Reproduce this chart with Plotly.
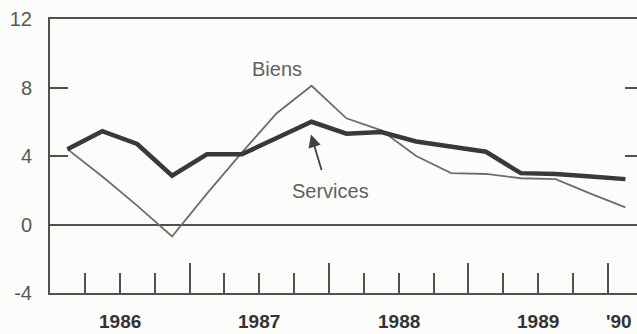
import plotly.graph_objects as go

# Quarterly growth rates, 1986 Q1 to 1990 Q1
years = [1986] * 4 + [1987] * 4 + [1988] * 4 + [1989] * 4 + [1990]
quarters = [1, 2, 3, 4] * 4 + [1]
biens = [4.4, 2.8, 1.1, -0.7, 1.8, 4.2, 6.5, 8.1, 6.2, 5.5, 4.0, 3.0,
         2.95, 2.7, 2.65, 1.8, 1.0]
services = [4.4, 5.45, 4.7, 2.85, 4.1, 4.1, 5.05, 6.0, 5.3, 5.4, 4.85, 4.55,
            4.25, 3.0, 2.95, 2.8, 2.65]

year_labels = ["1986", "1987", "1988", "1989", "'90"]
year_label_pos = [1986.5, 1987.5, 1988.5, 1989.5, 1990.08]
y_ticks = [-4, 0, 4, 8, 12]
y_tick_text = ["-4", "0", "4", "8", "12"]

# each quarter plotted at its mid-point
x = [y + (q - 0.5) / 4 for y, q in zip(years, quarters)]

AXIS = "#4b5449"
FONT = "Liberation Sans, Arial, sans-serif"
BG = "#fcfcfa"

fig = go.Figure()
fig.add_trace(go.Scatter(x=x, y=biens, mode="lines", name="Biens",
                         line=dict(color="#6a7067", width=1.8)))
fig.add_trace(go.Scatter(x=x, y=services, mode="lines", name="Services",
                         line=dict(color="#363c35", width=4.5)))
# carrier for the right-hand tick marks
fig.add_trace(go.Scatter(x=x, y=services, mode="lines", yaxis="y2",
                         line=dict(width=0), hoverinfo="skip", showlegend=False))

annotations = [
    dict(x=xv, y=-0.148, xref="x", yref="paper", text=t, showarrow=False,
         font=dict(family=FONT, size=19, color="#333333", weight="bold"),
         xanchor="center", yanchor="bottom")
    for xv, t in zip(year_label_pos, year_labels)
]
annotations += [
    dict(x=1987.627, y=9.1, text="Biens", showarrow=False,
         font=dict(family=FONT, size=20, color="#5e625c")),
    dict(x=1988.014, y=1.96, text="Services", showarrow=False,
         font=dict(family=FONT, size=20, color="#5e625c")),
    dict(x=1987.871, y=5.25, text="", showarrow=True, ax=11, ay=37,
         arrowhead=2, arrowsize=1.4, arrowwidth=1.8, arrowcolor="#3d433c"),
]

fig.update_layout(
    width=637, height=334,
    margin=dict(l=50, r=0, t=19, b=41),
    paper_bgcolor=BG, plot_bgcolor=BG,
    showlegend=False,
    annotations=annotations,
    xaxis=dict(
        range=[1986, 1990.208], showgrid=False, zeroline=False,
        showline=True, linecolor=AXIS, linewidth=2, mirror=True,
        tickvals=[1986, 1987, 1988, 1989, 1990], showticklabels=False,
        ticks="inside", ticklen=30, tickwidth=2, tickcolor=AXIS,
        minor=dict(tick0=1986, dtick=0.25, ticks="inside", ticklen=20,
                   tickwidth=2, tickcolor=AXIS, showgrid=False),
    ),
    yaxis=dict(
        range=[-4, 12], showgrid=False,
        zeroline=True, zerolinecolor=AXIS, zerolinewidth=2,
        showline=True, linecolor=AXIS, linewidth=2,
        tickvals=y_ticks, ticktext=y_tick_text,
        ticks="inside", ticklen=18, tickwidth=2,
        tickcolor=AXIS, ticklabelstandoff=12,
        tickfont=dict(family=FONT, size=20, color="#555a55"),
    ),
    yaxis2=dict(
        range=[-4, 12], overlaying="y", side="right", showgrid=False,
        zeroline=False, showline=False, showticklabels=False,
        tickvals=[4, 8], ticks="inside", ticklen=12, tickwidth=2,
        tickcolor=AXIS,
    ),
)

fig.write_html("out.html")
